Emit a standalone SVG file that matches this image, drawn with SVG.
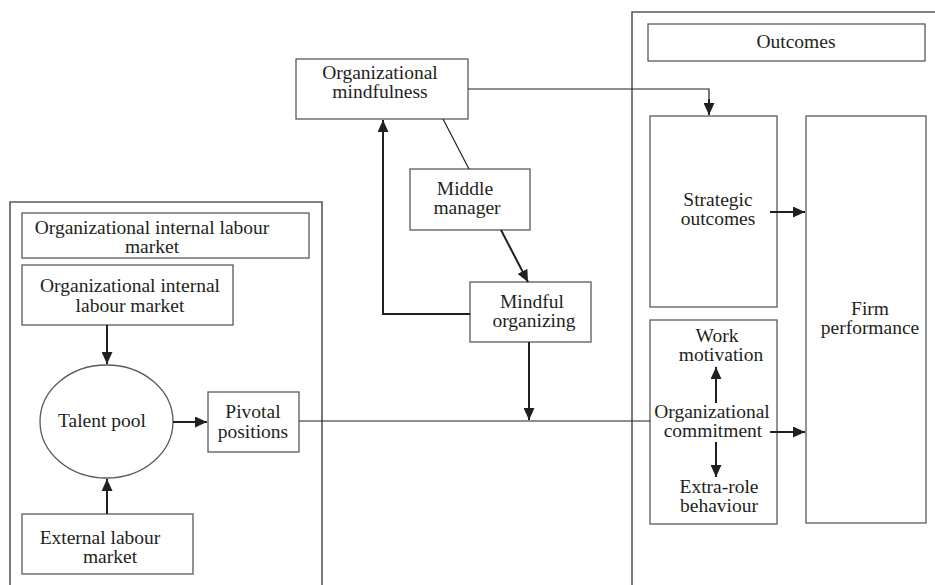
<svg xmlns="http://www.w3.org/2000/svg" width="935" height="585" viewBox="0 0 935 585" font-family="'Liberation Serif', 'Times New Roman', serif">
<style>
text{font-family:'Liberation Serif','Times New Roman',serif;font-size:19.5px;fill:#231f20;text-anchor:middle}
.box{fill:#fff;stroke:#5a5a5a;stroke-width:1.3}
.panel{fill:none;stroke:#5a5a5a;stroke-width:1.6}
.line{fill:none;stroke:#231f20;stroke-width:1.2}
.arr{fill:none;stroke:#231f20;stroke-width:2;marker-end:url(#ah)}
</style>
<defs>
<marker id="ah" markerUnits="userSpaceOnUse" markerWidth="12" markerHeight="11" refX="12" refY="5.5" orient="auto">
<path d="M0,0 L12,5.5 L0,11 z" fill="#231f20"/>
</marker>
</defs>
<rect width="935" height="585" fill="#fff"/>
<g id="panel-left"><path class="panel" d="M10,585 V202 H322 V585"/></g>
<g id="panel-right"><path class="panel" d="M632,585 V12 H935"/></g>
<g id="header-left"><rect class="box" x="22" y="213" width="287" height="45"/><text x="152" y="234">Organizational internal labour</text><text x="152" y="253">market</text></g>
<g id="internal-market"><rect class="box" x="22" y="265" width="211" height="60"/><text x="130" y="292">Organizational internal</text><text x="130" y="312">labour market</text></g>
<g id="talent-pool"><ellipse class="box" cx="106.5" cy="421.5" rx="66.5" ry="56.5"/><text x="102" y="427">Talent pool</text></g>
<g id="pivotal"><rect class="box" x="208" y="392" width="91" height="60"/><text x="253" y="418">Pivotal</text><text x="253" y="438">positions</text></g>
<g id="external-market"><rect class="box" x="22" y="514" width="171" height="60"/><text x="100" y="544">External labour</text><text x="110" y="563">market</text></g>
<g id="org-mindfulness"><rect class="box" x="296" y="59" width="172" height="60"/><text x="380" y="79">Organizational</text><text x="380" y="98">mindfulness</text></g>
<g id="middle-manager"><rect class="box" x="410" y="169" width="120" height="61"/><text x="465" y="195">Middle</text><text x="467" y="214">manager</text></g>
<g id="mindful-organizing"><rect class="box" x="470" y="282" width="121" height="60"/><text x="532" y="308">Mindful</text><text x="534" y="327">organizing</text></g>
<g id="outcomes-header"><rect class="box" x="648" y="24" width="277" height="37"/><text x="796" y="48">Outcomes</text></g>
<g id="strategic"><rect class="box" x="650" y="116" width="127" height="191"/><text x="718" y="206">Strategic</text><text x="718" y="225">outcomes</text></g>
<g id="behaviour-box"><rect class="box" x="650" y="320" width="127" height="204"/><text x="717" y="342">Work</text><text x="721" y="361">motivation</text><text x="712" y="418">Organizational</text><text x="713" y="437">commitment</text><text x="719" y="493">Extra-role</text><text x="719" y="512">behaviour</text></g>
<g id="firm-performance"><rect class="box" x="806" y="116" width="120" height="407"/><text x="870" y="315">Firm</text><text x="870" y="334">performance</text></g>
<g id="connectors">
<path class="line" d="M468,89 H709 V100"/>
<path class="arr" d="M709,99 V115"/>
<path class="line" d="M443,119 L469,169"/>
<path class="arr" d="M501,230 L528,282"/>
<path class="arr" d="M470,314 H383 V120"/>
<path class="arr" d="M529,342 V420"/>
<path class="line" d="M299,421 H650"/>
<path class="arr" d="M107,325 V364"/>
<path class="arr" d="M107,514 V479"/>
<path class="arr" d="M173,422 H207"/>
<path class="arr" d="M770,212 H805"/>
<path class="arr" d="M770,432 H805"/>
<path class="arr" d="M716,403 V367"/>
<path class="arr" d="M716,442 V477"/>
</g>
</svg>
